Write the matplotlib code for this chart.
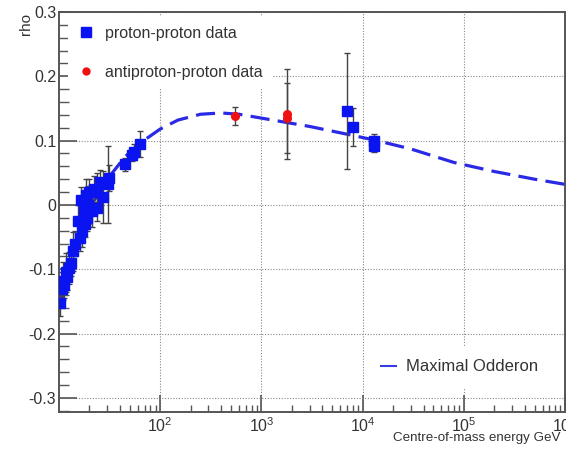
import matplotlib
matplotlib.use('Agg')
import matplotlib.pyplot as plt
from matplotlib.lines import Line2D
from matplotlib.ticker import FixedLocator, LogLocator, NullFormatter, FixedFormatter, MultipleLocator

# ---------------- data ----------------
# proton-proton rho measurements (sqrt(s) in GeV)
pp_sqrt_s = [10.2, 10.8, 11.0, 11.3, 11.6, 12.0, 12.5, 13.0, 13.7, 14.5,
             15.3, 16.0, 16.5, 17.0, 17.5, 18.0, 18.5, 19.0, 19.5, 20.0,
             21.0, 22.0, 23.5, 24.0, 25.5, 27.0, 30.6, 31.0, 45.0, 53.0,
             55.0, 62.5, 7000.0, 7950.0, 13000.0, 13000.0]
pp_rho = [-0.152, -0.130, -0.118, -0.125, -0.105, -0.112, -0.098, -0.090, -0.072, -0.060,
          -0.025, -0.052, 0.008, -0.040, -0.010, -0.030, 0.015, -0.020, 0.000, 0.020,
          -0.010, 0.025, 0.020, -0.005, 0.035, 0.012, 0.032, 0.042, 0.063, 0.078,
          0.082, 0.095, 0.146, 0.121, 0.092, 0.100]
pp_err = [0.020, 0.025, 0.030, 0.020, 0.030, 0.020, 0.025, 0.020, 0.030, 0.020,
          0.025, 0.020, 0.020, 0.025, 0.030, 0.020, 0.025, 0.020, 0.030, 0.020,
          0.025, 0.020, 0.030, 0.020, 0.020, 0.040, 0.060, 0.020, 0.010, 0.010,
          0.012, 0.020, 0.090, 0.030, 0.010, 0.010]

# antiproton-proton rho measurements
pbp_sqrt_s = [546.0, 1800.0, 1800.0]
pbp_rho = [0.138, 0.142, 0.135]
pbp_err = [0.014, 0.070, 0.055]

# Maximal Odderon prediction
mo_sqrt_s = [10, 12, 15, 20, 30, 45, 63, 100, 150, 250, 400, 600, 1000,
             3000, 7000, 13000, 30000, 80000, 200000, 500000, 1000000]
mo_rho = [-0.155, -0.110, -0.060, -0.005, 0.040, 0.075, 0.096, 0.118, 0.132,
          0.141, 0.143, 0.141, 0.135, 0.122, 0.110, 0.101, 0.087, 0.066,
          0.052, 0.040, 0.032]

x_ticks = [1e2, 1e3, 1e4, 1e5, 1e6]
x_tick_labels = ['$10^{2}$', '$10^{3}$', '$10^{4}$', '$10^{5}$', '$10^{6}$']
y_ticks = [-0.3, -0.2, -0.1, 0.0, 0.1, 0.2, 0.3]
y_tick_labels = ['-0.3', '-0.2', '-0.1', '0', '0.1', '0.2', '0.3']

# ---------------- style ----------------
plt.rcParams['font.family'] = ['Liberation Sans', 'DejaVu Sans']
plt.rcParams['axes.unicode_minus'] = False
plt.rcParams['mathtext.fontset'] = 'custom'
plt.rcParams['mathtext.rm'] = 'Liberation Sans'
plt.rcParams['mathtext.it'] = 'Liberation Sans:italic'

txt_col = '#333333'
fig = plt.figure(figsize=(5.66, 4.5), dpi=100)
ax = fig.add_axes([59/566, 38/450, 506/566, 400/450])

ax.set_xscale('log')
ax.set_xlim(10, 1e6)
ax.set_ylim(-0.322, 0.3)

# curve
ax.plot(mo_sqrt_s, mo_rho, color='#2a2ae6', lw=2.3, dashes=(6, 2.6), zorder=3)

# data
ax.errorbar(pp_sqrt_s, pp_rho, yerr=pp_err, fmt='s', ms=6.5, color='#0a14f0',
            ecolor='#444444', elinewidth=1.0, capsize=2, capthick=1.0, zorder=4)
ax.errorbar(pbp_sqrt_s, pbp_rho, yerr=pbp_err, fmt='o', ms=5.5, color='#f01010',
            ecolor='#444444', elinewidth=1.0, capsize=2, capthick=1.0, zorder=5)

# ticks
ax.xaxis.set_major_locator(FixedLocator(x_ticks))
ax.xaxis.set_major_formatter(FixedFormatter(x_tick_labels))
ax.xaxis.set_minor_locator(LogLocator(base=10, subs=range(2, 10), numticks=20))
ax.xaxis.set_minor_formatter(NullFormatter())
ax.yaxis.set_major_locator(FixedLocator(y_ticks))
ax.yaxis.set_major_formatter(FixedFormatter(y_tick_labels))
ax.yaxis.set_minor_locator(MultipleLocator(0.02))

ax.tick_params(axis='both', which='both', direction='in', colors='#555555',
               labelcolor=txt_col, top=False, right=False)
ax.tick_params(axis='y', which='major', length=13, width=1.2, labelsize=11.5, pad=2)
ax.tick_params(axis='y', which='minor', length=7, width=1.0)
ax.tick_params(axis='x', which='major', length=12, width=1.2, labelsize=11.5, pad=3)
ax.tick_params(axis='x', which='minor', length=5, width=1.0)

for s in ax.spines.values():
    s.set_color('#555555')
    s.set_linewidth(1.4)

ax.grid(True, which='major', color='#888888', lw=0.8, linestyle=(0, (1, 1.5)))
ax.set_axisbelow(True)

# legends
h1 = Line2D([], [], marker='s', ls='none', color='#0a14f0', ms=6.5)
h2 = Line2D([], [], marker='o', ls='none', color='#f01010', ms=5.0)
leg1 = ax.legend([h1, h2], ['proton-proton data', 'antiproton-proton data'],
                 loc='upper left', bbox_to_anchor=(0.008, 1.0), fontsize=11.5,
                 frameon=True, facecolor='white', edgecolor='none', framealpha=1,
                 fancybox=False, labelspacing=1.5, handletextpad=0.6,
                 handlelength=1.2, borderpad=0.55, borderaxespad=0.3,
                 labelcolor=txt_col)
leg1.set_zorder(6)
ax.add_artist(leg1)

h3 = Line2D([], [], color='#3a3ae6', lw=1.5)
leg2 = ax.legend([h3], ['Maximal Odderon'], loc='lower right',
                 bbox_to_anchor=(0.99, 0.04), fontsize=12, frameon=True,
                 facecolor='white', edgecolor='none', framealpha=1, fancybox=False,
                 handlelength=0.9, handletextpad=0.6, borderpad=0.8,
                 labelcolor=txt_col)
leg2.set_zorder(6)

# axis titles
fig.text(393/566, 1 - 438/450, 'Centre-of-mass energy GeV', fontsize=9.6,
         color=txt_col, ha='left', va='center')
fig.text(26/566, 1 - 13/450, 'rho', fontsize=11, color=txt_col, rotation=90,
         ha='center', va='top')

fig.savefig('out.png', dpi=100)
